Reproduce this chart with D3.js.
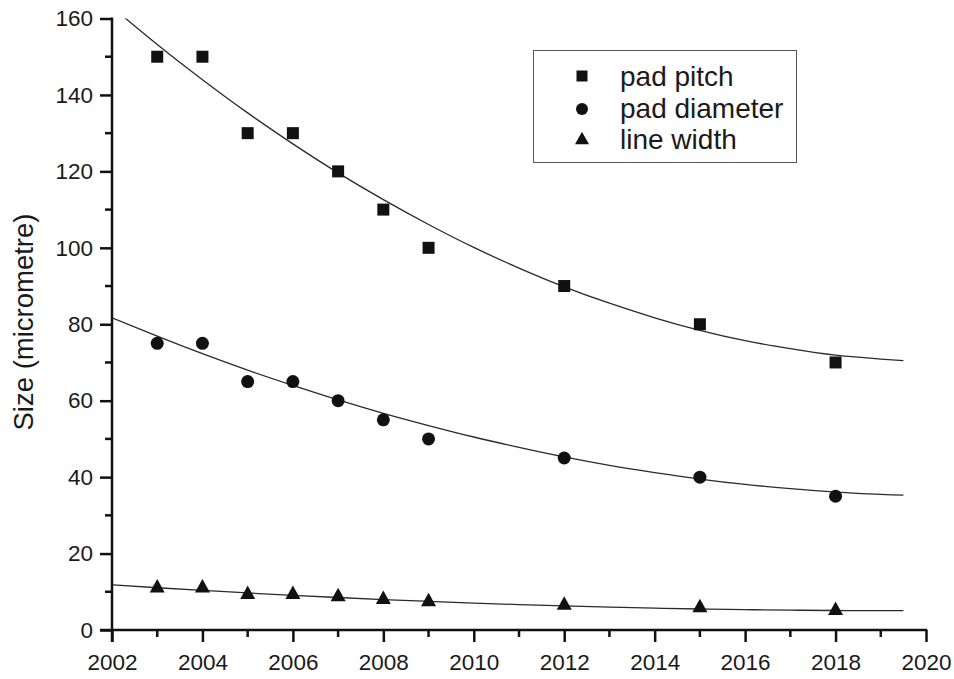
<!DOCTYPE html>
<html>
<head>
<meta charset="utf-8">
<script src="https://cdn.jsdelivr.net/npm/d3@7"></script>
<style>
  html, body { margin: 0; padding: 0; background: #fff; }
  svg { display: block; }
  text { font-family: "Liberation Sans", Arial, sans-serif; fill: #1a1a1a; }
</style>
</head>
<body>
<svg id="chart" width="954" height="679"></svg>
<script>
// ---- data ----
const years = [2003, 2004, 2005, 2006, 2007, 2008, 2009, 2012, 2015, 2018];
const padPitch = [150, 150, 130, 130, 120, 110, 100, 90, 80, 70];
const padDiameter = [75, 75, 65, 65, 60, 55, 50, 45, 40, 35];
const lineWidth = [11, 11, 9.3, 9.3, 8.7, 8, 7.4, 6.5, 5.8, 5.1];

// fitted trend curves
const fitYears = [2002, 2003, 2004, 2005, 2006, 2007, 2008, 2009, 2010, 2011, 2012, 2013, 2014, 2015, 2016, 2017, 2018, 2019, 2019.5];
const pitchFit = [163.0, 153.2, 144.0, 135.3, 127.2, 119.6, 112.6, 106.1, 100.1, 94.7, 89.8, 85.5, 81.7, 78.4, 75.7, 73.6, 71.9, 70.9, 70.5];
const diameterFit = [81.7, 76.9, 72.3, 68.0, 64.0, 60.2, 56.7, 53.5, 50.5, 47.8, 45.3, 43.1, 41.2, 39.5, 38.1, 37.0, 36.1, 35.5, 35.3];
const widthFit = [11.8, 11.05, 10.35, 9.69, 9.07, 8.5, 7.97, 7.49, 7.05, 6.65, 6.3, 5.99, 5.73, 5.5, 5.33, 5.19, 5.1, 5.06, 5.05];

const xTicks = [2002, 2004, 2006, 2008, 2010, 2012, 2014, 2016, 2018, 2020];
const yTicks = [0, 20, 40, 60, 80, 100, 120, 140, 160];
const seriesNames = ["pad pitch", "pad diameter", "line width"];
const yLabel = "Size (micrometre)";

// ---- layout ----
const svg = d3.select("#chart");
const pLeft = 112, pRight = 926, pTop = 18.5, pBottom = 630;
const x = d3.scaleLinear().domain([2002, 2020]).range([pLeft, pRight]);
const y = d3.scaleLinear().domain([0, 160]).range([pBottom, pTop]);
const ink = "#111";

svg.append("defs").append("clipPath").attr("id", "plotclip")
  .append("rect").attr("x", pLeft).attr("y", pTop).attr("width", pRight - pLeft).attr("height", pBottom - pTop);

// ---- fitted curves ----
const line = d3.line().x(d => x(d[0])).y(d => y(d[1])).curve(d3.curveNatural);
const curveG = svg.append("g").attr("clip-path", "url(#plotclip)");
[pitchFit, diameterFit, widthFit].forEach(vals => {
  curveG.append("path")
    .datum(fitYears.map((yr, i) => [yr, vals[i]]))
    .attr("d", line)
    .attr("fill", "none")
    .attr("stroke", "#2a2a2a")
    .attr("stroke-width", 1.3);
});

// ---- markers ----
function drawMarker(g, type, cx, cy, s) {
  if (type === 0) {
    g.append("rect").attr("x", cx - s / 2).attr("y", cy - s / 2)
      .attr("width", s).attr("height", s).attr("fill", ink);
  } else if (type === 1) {
    g.append("circle").attr("cx", cx).attr("cy", cy).attr("r", s / 2 + 0.5).attr("fill", ink);
  } else {
    const w = s + 3, h = s + 1.5;
    g.append("path")
      .attr("d", `M${cx},${cy - h * 2 / 3}L${cx + w / 2},${cy + h / 3}L${cx - w / 2},${cy + h / 3}Z`)
      .attr("fill", ink);
  }
}
const markG = svg.append("g");
[padPitch, padDiameter, lineWidth].forEach((vals, k) => {
  years.forEach((yr, i) => drawMarker(markG, k, x(yr), y(vals[i]), 12));
});

// ---- axes ----
const axisW = 2.5;
const xAxis = svg.append("g").attr("transform", `translate(0,${pBottom})`)
  .call(d3.axisBottom(x).tickValues(xTicks).tickFormat(d3.format("d")).tickSize(12).tickPadding(12));
const yAxis = svg.append("g").attr("transform", `translate(${pLeft},0)`)
  .call(d3.axisLeft(y).tickValues(yTicks).tickSize(12).tickPadding(7));

// minor ticks
const xMinor = d3.range(2003, 2020, 2);
const yMinor = d3.range(10, 160, 20);
xAxis.selectAll(".minor").data(xMinor).enter().append("line")
  .attr("x1", d => x(d)).attr("x2", d => x(d)).attr("y1", 0).attr("y2", 7);
yAxis.selectAll(".minor").data(yMinor).enter().append("line")
  .attr("y1", d => y(d)).attr("y2", d => y(d)).attr("x1", 0).attr("x2", -7);

[xAxis, yAxis].forEach(a => {
  a.select(".domain").remove();
  a.selectAll("line").attr("stroke", ink).attr("stroke-width", axisW);
  a.selectAll("text").attr("font-size", 22.5).attr("fill", "#1a1a1a")
    .style("font-family", "'Liberation Sans', Arial, sans-serif");
});
// axis lines
svg.append("line").attr("x1", pLeft - 12).attr("x2", pRight + axisW / 2).attr("y1", pBottom).attr("y2", pBottom)
  .attr("stroke", ink).attr("stroke-width", axisW);
svg.append("line").attr("x1", pLeft).attr("x2", pLeft).attr("y1", pTop - 1).attr("y2", pBottom + 12)
  .attr("stroke", ink).attr("stroke-width", axisW);

// y label
svg.append("text")
  .attr("transform", `translate(33,322) rotate(-90)`)
  .attr("text-anchor", "middle")
  .attr("font-size", 27.5)
  .text(yLabel);

// ---- legend ----
const lg = svg.append("g");
lg.append("rect").attr("x", 533.5).attr("y", 50.5).attr("width", 263).attr("height", 112)
  .attr("fill", "#fff").attr("stroke", "#555").attr("stroke-width", 1);
const rowBase = [86, 118, 149];
const markY = [76, 109, 140];
seriesNames.forEach((name, k) => {
  drawMarker(lg, k, 582, markY[k], 11);
  lg.append("text").attr("x", 620).attr("y", rowBase[k]).attr("font-size", 28).text(name);
});
</script>
</body>
</html>
